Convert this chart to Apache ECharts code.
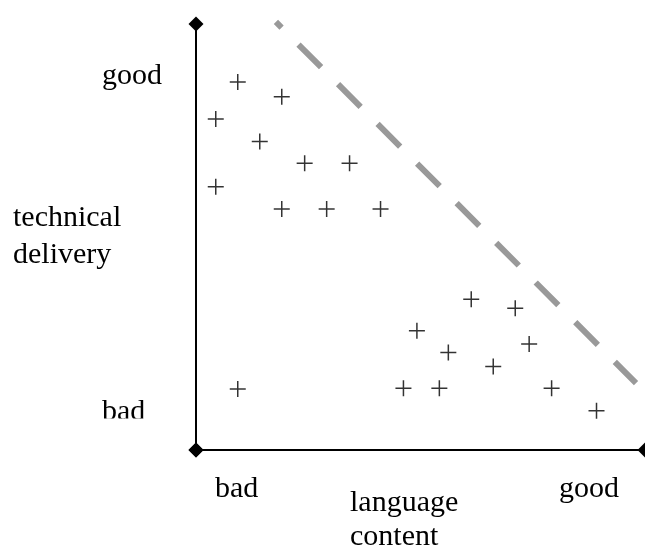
<!DOCTYPE html>
<html>
<head>
<meta charset="utf-8">
<script src="https://cdn.jsdelivr.net/npm/echarts@6/dist/echarts.min.js"></script>
<style>
  html, body { margin: 0; padding: 0; background: #fff; }
  #chart { width: 645px; height: 547px; }
</style>
</head>
<body>
<div id="chart"></div>
<script>
// Observations (language content on x, technical delivery on y; scale 0..10)
const pointX = [0.93, 1.91, 0.44, 1.42, 2.42, 3.42, 0.44, 1.91, 2.91, 4.11, 0.93,
                6.13, 7.11, 4.92, 5.62, 7.42, 6.62, 4.62, 5.42, 7.92, 8.92];
const pointY = [8.64, 8.29, 7.77, 7.24, 6.73, 6.73, 6.18, 5.66, 5.66, 5.66, 1.43,
                3.54, 3.33, 2.80, 2.29, 2.49, 1.96, 1.45, 1.45, 1.45, 0.92];

// Dashed gray boundary line (start, end)
const boundaryX = [1.78, 9.80];
const boundaryY = [10.05, 1.57];

// Text labels
const yLabelTop = 'good';
const yLabelBottom = 'bad';
const yTitle = ['technical', 'delivery'];
const xLabelLeft = 'bad';
const xLabelRight = 'good';
const xTitle = ['language', 'content'];

const FONT = '30px "Liberation Serif", "Times New Roman", serif';
const plusPath = 'path://M0,7.25H16V8.75H0Z M7.25,0H8.75V16H7.25Z';

const chart = echarts.init(document.getElementById('chart'), null, { renderer: 'canvas' });

const axisCommon = {
  type: 'value',
  min: 0,
  max: 10,
  axisLine: {
    show: true,
    symbol: ['diamond', 'diamond'],
    symbolSize: [15, 15],
    lineStyle: { color: '#000', width: 2 }
  },
  axisTick: { show: false },
  axisLabel: { show: false },
  splitLine: { show: false }
};

function textEl(text, x, y) {
  return {
    type: 'text', x: x, y: y, z: 10,
    style: { text: text, font: FONT, fill: '#000', align: 'left', verticalAlign: 'middle' }
  };
}

const option = {
  animation: false,
  backgroundColor: '#fff',
  grid: { left: 196, top: 24, width: 450, height: 426 },
  xAxis: Object.assign({}, axisCommon),
  yAxis: Object.assign({}, axisCommon),
  series: [
    {
      type: 'line',
      data: boundaryX.map((x, i) => [x, boundaryY[i]]),
      symbol: 'none',
      clip: false,
      silent: true,
      lineStyle: { color: '#999999', width: 6, type: [32, 24], dashOffset: 24, cap: 'butt' },
      z: 1
    },
    {
      type: 'scatter',
      data: pointX.map((x, i) => [x, pointY[i]]),
      symbol: plusPath,
      symbolSize: [16, 16],
      clip: false,
      itemStyle: { color: '#000' },
      z: 2
    }
  ],
  graphic: [
    textEl(yLabelTop, 102, 76.5),
    textEl(yTitle[0], 13, 218),
    textEl(yTitle[1], 13, 255),
    textEl(yLabelBottom, 102, 412.5),
    { type: 'rect', z: 11, shape: { x: 95, y: 418.5, width: 60, height: 16 }, style: { fill: '#fff' } },
    textEl(xLabelLeft, 215, 489),
    textEl(xTitle[0], 350, 503),
    textEl(xTitle[1], 350, 537.5),
    textEl(xLabelRight, 559, 489)
  ]
};

chart.setOption(option);
</script>
</body>
</html>
